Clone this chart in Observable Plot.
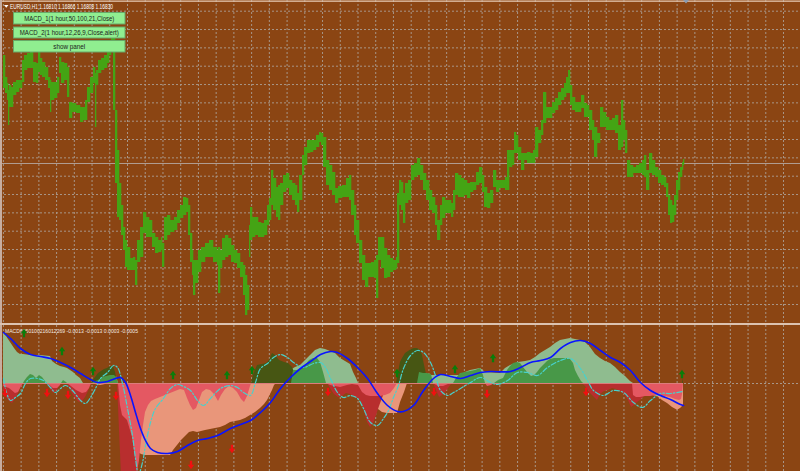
<!DOCTYPE html>
<html><head><meta charset="utf-8">
<script src="https://cdn.jsdelivr.net/npm/d3@7"></script>
<script src="https://cdn.jsdelivr.net/npm/@observablehq/plot@0.6"></script>
<style>
html,body{margin:0;padding:0;background:#8b4513;}
#wrap{position:relative;width:800px;height:471px;overflow:hidden;background:#8b4513;}
#top,#bot,#ovl{position:absolute;left:0;}
#top{top:0;height:323px;} #bot{top:325px;height:146px;} #ovl{top:0;pointer-events:none;}
</style></head>
<body><div id="wrap"><div id="top"></div><div id="bot"></div><svg id="ovl" width="800" height="471"></svg></div>
<script>
// ---------- chart texts ----------
const symbolName = "EURUSD,H1";
const ohlc = ["1.16810", "1.16866", "1.16808", "1.16830"];
const bidPrice = 1.1683;
const buttonLabels = ["MACD_1(1 hour,50,100,21,Close)", "MACD_2(1 hour,12,26,9,Close,alert)", "show panel"];
const indicatorName = "MACD6050100216012269";
const indicatorValues = ["-0.0013", "-0.0013", "0.0003", "-0.0005"];

// ---------- price bars (bar index, high, low) ----------
const priceBar = [
0,2,4,5,6,8,10,13,16,19, 21,24,27,30,33,35,37,39,42,45, 47,48,51,54,56,58,61,64,66,69,
73,77,80,82,84,87,90,92,93,95, 98,101,104,106,108,110,112,114,116,118, 120,122,124,127,130,132,134,137,140,143,
146,149,152,155,158,159,161,164,167,171, 174,177,180,183,185,187,189,190,192,195, 198,202,206,210,214,215,217,219,222,225,
228,231,234,237,240,242,244,246,247,249, 252,255,258,261,264,266,268,270,273,275, 277,280,283,286,289,292,294,296,299,301,
304,307,310,313,316,318,320,323,326,329, 332,335,339,343,346,348,351,353,356,359, 362,365,368,371,373,375,378,381,384,387,
390,393,394,396,398,400,402,405,408,411, 414,417,420,423,426,429,432,434,437,439, 442,445,448,450,452,455,458,461,464,467,
470,473,476,479,481,484,487,490,493,496, 499,502,504,506,509,511,513,515,518,521, 524,527,530,532,535,538,540,543,546,549,
552,555,558,561,563,565,567,569,572,575, 578,581,584,586,589,591,594,597,600,603, 606,609,612,615,618,620,622,624,627,630,
633,636,639,641,643,646,649,652,655,658, 661,663,665,667,669,671,673,675,677,679,680];
const priceHigh = [
1.1791,1.1769,1.1763,1.1756,1.1761,1.1759,1.1764,1.1766,1.1766,1.1786, 1.1791,1.1793,1.1794,1.1784,1.1783,1.1794,1.1788,1.1784,1.1779,1.1769, 1.1766,1.1764,1.1764,1.1769,1.1789,1.1784,1.1783,1.1779,1.1744,1.1743,
1.1741,1.1739,1.1739,1.1746,1.1759,1.1769,1.1779,1.1773,1.1776,1.1786, 1.1788,1.1791,1.1798,1.1804,1.1814,1.1818,1.1736,1.1696,1.1663,1.1641, 1.1619,1.1606,1.1599,1.1588,1.1589,1.1586,1.1606,1.1619,1.1634,1.1629,
1.1626,1.1613,1.1609,1.1606,1.1609,1.1603,1.1629,1.1631,1.1626,1.1629, 1.1636,1.1641,1.1649,1.1648,1.1641,1.1613,1.1596,1.1586,1.1586,1.1596, 1.1599,1.1603,1.1606,1.1599,1.1596,1.1599,1.1596,1.1608,1.1611,1.1608,
1.1601,1.1596,1.1593,1.1584,1.1581,1.1571,1.1561,1.1621,1.1639,1.1629, 1.1629,1.1624,1.1623,1.1626,1.1641,1.1648,1.1676,1.1668,1.1659,1.1661, 1.1663,1.1671,1.1673,1.1666,1.1663,1.1661,1.1653,1.1671,1.1691,1.1699,
1.1706,1.1706,1.1706,1.1711,1.1714,1.1713,1.1709,1.1686,1.1681,1.1674, 1.1658,1.1660,1.1661,1.1668,1.1671,1.1656,1.1641,1.1626,1.1606,1.1591, 1.1583,1.1583,1.1584,1.1586,1.1591,1.1609,1.1609,1.1598,1.1591,1.1588,
1.1586,1.1589,1.1653,1.1666,1.1664,1.1653,1.1663,1.1666,1.1681,1.1683, 1.1688,1.1681,1.1673,1.1666,1.1656,1.1649,1.1641,1.1626,1.1641,1.1649, 1.1646,1.1646,1.1643,1.1656,1.1673,1.1671,1.1668,1.1666,1.1663,1.1664,
1.1664,1.1674,1.1679,1.1671,1.1659,1.1653,1.1656,1.1676,1.1666,1.1666, 1.1666,1.1669,1.1696,1.1696,1.1696,1.1714,1.1711,1.1699,1.1693,1.1693, 1.1694,1.1693,1.1696,1.1719,1.1716,1.1726,1.1754,1.1739,1.1739,1.1744,
1.1748,1.1754,1.1758,1.1763,1.1769,1.1776,1.1761,1.1749,1.1744,1.1744, 1.1751,1.1743,1.1741,1.1736,1.1726,1.1719,1.1713,1.1739,1.1734,1.1729, 1.1726,1.1728,1.1731,1.1721,1.1746,1.1726,1.1716,1.1686,1.1681,1.1679,
1.1681,1.1683,1.1686,1.1691,1.1676,1.1693,1.1686,1.1679,1.1676,1.1671, 1.1669,1.1663,1.1651,1.1646,1.1641,1.1651,1.1666,1.1674,1.1679,1.1684,1.1687];
const priceLow = [
1.1758,1.1753,1.1746,1.1721,1.1739,1.1739,1.1751,1.1754,1.1758,1.1764, 1.1776,1.1778,1.1778,1.1764,1.1763,1.1774,1.1771,1.1769,1.1766,1.1758, 1.1734,1.1746,1.1748,1.1753,1.1773,1.1763,1.1766,1.1749,1.1728,1.1734,
1.1733,1.1724,1.1726,1.1726,1.1744,1.1753,1.1763,1.1719,1.1761,1.1773, 1.1776,1.1778,1.1783,1.1791,1.1796,1.1736,1.1663,1.1629,1.1626,1.1611, 1.1596,1.1579,1.1576,1.1576,1.1576,1.1561,1.1584,1.1589,1.1613,1.1609,
1.1609,1.1599,1.1593,1.1594,1.1596,1.1579,1.1606,1.1611,1.1614,1.1616, 1.1623,1.1628,1.1631,1.1634,1.1611,1.1584,1.1571,1.1551,1.1563,1.1574, 1.1584,1.1589,1.1589,1.1584,1.1581,1.1553,1.1578,1.1586,1.1589,1.1591,
1.1584,1.1583,1.1578,1.1569,1.1551,1.1531,1.1536,1.1589,1.1606,1.1609, 1.1611,1.1609,1.1609,1.1611,1.1621,1.1626,1.1641,1.1636,1.1629,1.1626, 1.1641,1.1654,1.1658,1.1651,1.1646,1.1641,1.1634,1.1646,1.1671,1.1681,
1.1693,1.1694,1.1696,1.1699,1.1704,1.1701,1.1679,1.1661,1.1656,1.1651, 1.1643,1.1648,1.1649,1.1649,1.1646,1.1631,1.1611,1.1603,1.1583,1.1566, 1.1559,1.1569,1.1569,1.1568,1.1548,1.1586,1.1578,1.1568,1.1569,1.1574,
1.1576,1.1578,1.1583,1.1641,1.1636,1.1623,1.1643,1.1646,1.1666,1.1669, 1.1671,1.1666,1.1656,1.1646,1.1636,1.1633,1.1621,1.1606,1.1621,1.1628, 1.1633,1.1633,1.1629,1.1636,1.1651,1.1649,1.1649,1.1651,1.1648,1.1654,
1.1656,1.1661,1.1663,1.1654,1.1639,1.1638,1.1643,1.1659,1.1654,1.1658, 1.1658,1.1656,1.1656,1.1679,1.1681,1.1693,1.1693,1.1686,1.1676,1.1686, 1.1683,1.1683,1.1683,1.1689,1.1703,1.1711,1.1723,1.1728,1.1728,1.1733,
1.1736,1.1741,1.1746,1.1749,1.1753,1.1753,1.1741,1.1736,1.1734,1.1734, 1.1738,1.1729,1.1729,1.1716,1.1706,1.1689,1.1703,1.1719,1.1719,1.1716, 1.1716,1.1716,1.1713,1.1696,1.1699,1.1706,1.1693,1.1669,1.1669,1.1673,
1.1673,1.1673,1.1671,1.1669,1.1656,1.1673,1.1671,1.1669,1.1663,1.1661, 1.1659,1.1649,1.1631,1.1623,1.1624,1.1631,1.1646,1.1656,1.1669,1.1676,1.1681];

// ---------- MACD_1 main (area) ----------
const m1Bar = [0,3,7,11,14,17,20,27,37,47, 49,53,57,61,64,67,70,73,77,80, 83,92,97,102,107,110,113,115,117,120,
123,126,129,132,135,138,142,167,170,174, 178,182,186,190,194,198,202,207,212,217, 222,227,237,242,247,252,257,261,264,267,
269,271,273,277,282,287,292,297,302,307, 312,317,322,327,332,337,342,347,350,353, 355,359,363,367,371,375,379,384,394,397,
401,404,407,412,417,457,462,467,477,482, 497,502,507,515,522,527,532,537,542,547, 552,557,562,567,572,577,582,587,592,597,
602,607,612,617,622,627,630,634,639,644, 649,654,659,664,669,674,677,680];
const m1Val = [0.00300,0.00282,0.00246,0.00210,0.00186,0.00174,0.00174,0.00168,0.00168,0.00162,
0.00132,0.00114,0.00102,0.00096,0.00090,0.00078,0.00066,0.00048,0.00030,0,
-0.00006,-0.00006,-0.00012,-0.00006,0,0.00030,0.00042,0,-0.00054,-0.00132,
-0.00210,-0.00282,-0.00342,-0.00390,-0.00414,-0.00426,-0.00432,-0.00432,-0.00402,-0.00372,
-0.00342,-0.00318,-0.00294,-0.00288,-0.00294,-0.00288,-0.00282,-0.00276,-0.00270,-0.00264,
-0.00252,-0.00234,-0.00222,-0.00210,-0.00192,-0.00174,-0.00150,-0.00126,-0.00102,-0.00066,
-0.00042,-0.00012,0.00012,0.00036,0.00060,0.00078,0.00096,0.00108,0.00138,0.00168,
0.00198,0.00210,0.00204,0.00192,0.00180,0.00150,0.00132,0.00114,0.00066,0.00030,
0,-0.00042,-0.00078,-0.00102,-0.00120,-0.00156,-0.00174,-0.00180,-0.00180,-0.00114,
-0.00054,0,0.00030,0.00042,0.00048,0.00048,0.00066,0.00078,0.00090,0.00066,
0.00060,0.00090,0.00108,0.00126,0.00132,0.00138,0.00156,0.00180,0.00198,0.00216,
0.00240,0.00258,0.00264,0.00270,0.00264,0.00258,0.00246,0.00216,0.00174,0.00150,
0.00132,0.00120,0.00096,0.00066,0.00042,0.00012,-0.00012,-0.00036,-0.00048,-0.00060,
-0.00072,-0.00078,-0.00102,-0.00120,-0.00144,-0.00160,-0.00150,-0.00132];

// ---------- MACD_1 signal (blue line) ----------
const s1Bar = [0,7,17,27,37,47,57,67,77,87, 94,104,112,117,122,127,132,137,142,147, 154,164,174,184,194,204,214,227,237,247,
257,267,277,287,297,307,317,327,334,344, 354,364,374,384,394,400,410,420,430,437, 447,457,467,477,487,507,517,527,537,547,
557,567,577,587,597,607,617,627,637,647, 657,667,677,680];
const s1Val = [0.00306,0.00270,0.00210,0.00174,0.00162,0.00150,0.00126,0.00096,0.00060,0.00024,
0.00006,0.00012,0.00030,0.00036,0.00006,-0.00072,-0.00174,-0.00270,-0.00342,-0.00390,
-0.00414,-0.00420,-0.00408,-0.00372,-0.00342,-0.00330,-0.00312,-0.00270,-0.00246,-0.00222,
-0.00174,-0.00114,-0.00030,0.00036,0.00090,0.00132,0.00174,0.00192,0.00186,0.00150,
0.00096,0.00030,-0.00060,-0.00132,-0.00168,-0.00168,-0.00132,-0.00042,0.00030,0.00054,
0.00042,0.00030,0.00048,0.00066,0.00072,0.00072,0.00096,0.00126,0.00138,0.00156,
0.00210,0.00246,0.00258,0.00240,0.00198,0.00156,0.00126,0.00078,0.00006,-0.00042,
-0.00072,-0.00096,-0.00126,-0.00132];

// ---------- MACD_2 histogram, dark layer (olive / dark red) ----------
const hbBar = [0,3,6,9,12,15,18,20,44,47, 50,53,56,58,64,67,70,73,76,79, 82,85,88,89,92,95,98,101,104,107,
110,112,114,116,118,122,130,134,136,137, 138,139,248,250,254,259,263,266,269,272, 276,281,285,289,291,294,297,324,327,331,
335,339,343,347,351,355,358,360,362,364, 367,370,373,376,379,382,385,387,393,395, 397,399,402,405,408,411,414,417,419,421,
423,425,430,433,436,439,442,445,448,450, 579,582,586,590,594,597,601,605,609,613, 617,621,625,628,631,634,637,641,645,649,
653,655,679,680];
const hbVal = [-0.00042,-0.00084,-0.00108,-0.00120,-0.00096,-0.00060,-0.00018,0,0,-0.00036,
-0.00060,-0.00048,-0.00018,0,0,-0.00042,-0.00072,-0.00096,-0.00114,-0.00108,
-0.00084,-0.00048,0,0.00012,0.00036,0.00060,0.00072,0.00084,0.00090,0.00102,
0.00102,0.00066,0,-0.00282,-0.00552,-0.00672,-0.00702,-0.00582,-0.00432,-0.00282,
-0.00102,0,0,0.00048,0.00108,0.00114,0.00120,0.00138,0.00180,0.00168,
0.00138,0.00126,0.00120,0.00096,0.00066,0.00030,0,0,-0.00030,-0.00066,
-0.00084,-0.00078,-0.00060,-0.00066,-0.00084,-0.00090,-0.00114,-0.00150,-0.00192,-0.00234,
-0.00264,-0.00240,-0.00192,-0.00138,-0.00090,-0.00042,-0.00006,0,0,0.00066,
0.00126,0.00150,0.00180,0.00192,0.00204,0.00210,0.00210,0.00198,0.00168,0.00108,
0.00054,0,0,-0.00042,-0.00084,-0.00072,-0.00054,-0.00030,-0.00006,0,
0,-0.00018,-0.00054,-0.00078,-0.00102,-0.00066,-0.00048,-0.00042,-0.00030,-0.00036,
-0.00048,-0.00066,-0.00102,-0.00144,-0.00132,-0.00114,-0.00102,-0.00078,-0.00054,-0.00030,
-0.00006,0,0,0.00030];

// ---------- MACD_2 histogram, light layer (green / light red) ----------
const haBar = [0,6,12,15,18,20,21,24,27,30, 33,36,39,42,44,50,54,57,58,60, 63,64,73,79,83,86,88,95,99,103,
107,111,113,115,117,119,122,124,127,129, 131,133,134,136,138,140,142,145,148,152, 157,162,167,172,177,181,184,187,190,193,
196,199,203,207,211,215,218,222,226,230, 234,238,241,244,247,248,288,290,294,298, 302,306,310,314,317,320,323,327,337,344,
349,355,359,363,367,372,377,382,387,391, 394,414,416,420,424,428,430,435,440,445, 448,450,453,457,462,467,472,477,480,482,
484,488,491,495,500,504,507,510,514,517, 520,524,528,531,534,537,540,544,547,551, 555,559,563,567,570,572,575,578,580,629,
630,633,637,642,647,652,657,662,667,672, 676,678,679,680];
const haVal = [-0.00018,-0.00030,-0.00060,-0.00054,-0.00018,0,0.00012,0.00036,0.00054,0.00048,
0.00030,0.00048,0.00036,0.00012,0,-0.00030,-0.00030,-0.00012,0,0.00018,
0.00006,0,-0.00042,-0.00060,-0.00054,-0.00030,0,0.00018,0.00036,0.00042,
0.00048,0.00048,0.00036,0,-0.00132,-0.00192,-0.00210,-0.00222,-0.00282,-0.00324,
-0.00402,-0.00462,-0.00528,-0.00462,-0.00342,-0.00252,-0.00174,-0.00132,-0.00108,-0.00096,
-0.00084,-0.00072,-0.00060,-0.00048,-0.00036,-0.00042,-0.00090,-0.00132,-0.00162,-0.00150,
-0.00102,-0.00054,-0.00036,-0.00042,-0.00066,-0.00108,-0.00072,-0.00036,-0.00018,-0.00030,
-0.00054,-0.00096,-0.00114,-0.00078,-0.00018,0,0,0.00078,0.00078,0.00090,
0.00108,0.00138,0.00150,0.00150,0.00126,0.00066,0,-0.00012,-0.00024,-0.00012,
-0.00006,-0.00012,-0.00054,-0.00072,-0.00078,-0.00078,-0.00078,-0.00072,-0.00060,-0.00030,
0,0,0.00066,0.00060,0.00060,0.00054,0,-0.00018,-0.00018,-0.00006,
0,0,0.00030,0.00060,0.00066,0.00072,0.00078,0.00090,0.00048,0,
-0.00018,-0.00012,0,0.00018,0.00030,0.00078,0.00102,0.00120,0.00126,0.00120,
0.00096,0.00066,0.00042,0.00048,0.00066,0.00090,0.00108,0.00132,0.00144,0.00150,
0.00150,0.00150,0.00150,0.00144,0.00120,0.00078,0.00042,0.00012,0,0,
-0.00072,-0.00084,-0.00084,-0.00078,-0.00078,-0.00072,-0.00072,-0.00078,-0.00084,-0.00096,
-0.00102,-0.00096,-0.00066,0];

// ---------- MACD_2 signal (cyan dash-dot) ----------
const s2Bar = [0,3,7,12,17,22,27,34,40,47, 52,57,62,69,77,82,87,92,97,104, 110,114,119,124,129,132,135,139,142,147,
152,160,167,174,180,187,194,200,207,217, 227,234,240,247,252,257,264,270,277,284, 290,300,310,317,322,327,334,340,347,354,
360,367,374,380,385,390,395,400,407,414, 420,427,432,437,444,450,457,467,477,487, 494,504,514,524,534,544,557,567,577,584,
590,600,610,620,630,639,647,657,667,679];
const s2Val = [0.00030,-0.00054,-0.00102,-0.00084,-0.00060,0,0.00030,0.00030,0.00018,-0.00024,
-0.00054,-0.00030,-0.00012,-0.00042,-0.00102,-0.00120,-0.00084,-0.00030,0.00030,0.00066,
0.00108,0.00096,0,-0.00150,-0.00312,-0.00450,-0.00546,-0.00474,-0.00372,-0.00234,
-0.00150,-0.00090,-0.00030,-0.00006,-0.00018,-0.00042,-0.00102,-0.00132,-0.00090,-0.00030,
-0.00012,-0.00024,-0.00054,-0.00072,0.00006,0.00090,0.00120,0.00156,0.00174,0.00156,
0.00126,0.00096,0.00120,0.00126,0.00096,0.00030,-0.00054,-0.00084,-0.00072,-0.00090,
-0.00150,-0.00234,-0.00252,-0.00210,-0.00162,-0.00084,-0.00012,0.00090,0.00168,0.00198,
0.00186,0.00126,0.00048,-0.00042,-0.00072,-0.00054,-0.00030,0.00006,0.00036,0.00006,
-0.00006,0.00018,0.00066,0.00066,0.00048,0.00096,0.00138,0.00150,0.00090,0.00018,
-0.00042,-0.00072,-0.00042,-0.00054,-0.00114,-0.00144,-0.00102,-0.00060,-0.00060,-0.00048];

// ---------- signal arrows ----------
const upBar = [21,59,90,170,224,249,394,452,490,679];
const upVal = [0.00300,0.00192,0.00072,0.00048,0.00048,0.00078,0.00060,0.00084,0.00150,0.00054];
const dnBar = [2,44,65,113,188,229,325,431,484,583];
const dnVal = [-0.00060,-0.00060,-0.00072,-0.00078,-0.00492,-0.00396,-0.00054,-0.00054,-0.00066,-0.00054];

// ---------- build ----------
const zip = (b, v) => b.map((x, i) => ({bar: x, v: v[i]}));
const price = priceBar.map((b, i) => ({bar: b, next: i < priceBar.length - 1 ? priceBar[i + 1] : b + 1, hi: priceHigh[i], lo: priceLow[i]}));
const m1 = zip(m1Bar, m1Val), s1 = zip(s1Bar, s1Val), hb = zip(hbBar, hbVal), ha = zip(haBar, haVal), s2 = zip(s2Bar, s2Val);
const up = zip(upBar, upVal), dn = zip(dnBar, dnVal);
const lastBar = priceBar[priceBar.length - 1];

const xDomain = [-3, 797];
const gridColor = "#a89688";
const gridX = d3.range(0, 46).map(k => -0.1 + 17.73 * k);
const gridY = d3.range(0, 17).map(k => 1.18353 - 0.0018333 * k);
const svgStyle = {background: "transparent", overflow: "hidden"};

const topPlot = Plot.plot({
  width: 800, height: 323, margin: 0, style: svgStyle,
  x: {domain: xDomain, axis: null},
  y: {domain: [1.1523, 1.1846], axis: null},
  marks: [
    Plot.ruleY(gridY, {stroke: gridColor, strokeDasharray: "2,2"}),
    Plot.ruleX(gridX, {stroke: gridColor, strokeDasharray: "2,2"}),
    Plot.ruleY([bidPrice], {stroke: "#b09c90"}),
    Plot.rect(price, {x1: "bar", x2: d => d.next + 0.3, y1: "lo", y2: "hi", fill: "#44a414"})
  ]
});
document.getElementById("top").append(topPlot);

const pos = v => Math.max(0, v), neg = v => Math.min(0, v);
const botPlot = Plot.plot({
  width: 800, height: 146, margin: 0, style: svgStyle,
  x: {domain: xDomain, axis: null},
  y: {domain: [-0.00528, 0.00348], axis: null},
  marks: [
    Plot.ruleX(gridX, {stroke: gridColor, strokeDasharray: "2,2"}),
    Plot.ruleY([0], {stroke: gridColor, strokeDasharray: "2,2"}),
    Plot.area(m1, {x1: "bar", y1: 0, y2: d => pos(d.v), fill: "#8fbc8f"}),
    Plot.area(m1, {x1: "bar", y1: 0, y2: d => neg(d.v), fill: "#e9967a"}),
    Plot.area(hb, {x1: "bar", y1: 0, y2: d => pos(d.v), fill: "#475613"}),
    Plot.area(hb, {x1: "bar", y1: 0, y2: d => neg(d.v), fill: "#b82e2e"}),
    Plot.area(ha, {x1: "bar", y1: 0, y2: d => pos(d.v), fill: "#489848"}),
    Plot.area(ha, {x1: "bar", y1: 0, y2: d => neg(d.v), fill: "#e45862"}),
    Plot.ruleY([0], {x1: 0, x2: lastBar, stroke: "#dc7c7c"}),
    Plot.line(s2, {x: "bar", y: "v", stroke: "#48d1cc", strokeWidth: 1.2, strokeDasharray: "5,2,1.5,2", curve: "catmull-rom"}),
    Plot.line(s1, {x: "bar", y: "v", stroke: "#0a14ff", strokeWidth: 1.6, curve: "catmull-rom"})
  ]
});
document.getElementById("bot").append(botPlot);

// ---------- overlay: borders, title, buttons, indicator label, arrows ----------
const ovl = d3.select("#ovl");
const font = "'Liberation Sans', Arial, sans-serif";
ovl.append("rect").attr("x", 0).attr("y", 0.5).attr("width", 800).attr("height", 1.3).attr("fill", "#e4c6ae");
ovl.append("rect").attr("x", 0).attr("y", 0).attr("width", 2).attr("height", 471).attr("fill", "#c7ada0");
ovl.append("rect").attr("x", 0).attr("y", 323).attr("width", 800).attr("height", 2).attr("fill", "#dcc2b0");
ovl.append("polygon").attr("points", "683,0 689,0 686,3.5").attr("fill", "#8a9bb0");
ovl.append("polygon").attr("points", "4,5 8.5,5 6.25,7.8").attr("fill", "#ffffff");
ovl.append("text").attr("x", 10).attr("y", 8.6).attr("font-family", font).attr("font-size", 7)
  .attr("fill", "#ffffff").attr("textLength", 103).attr("lengthAdjust", "spacingAndGlyphs")
  .text(symbolName + "  " + ohlc.join(" "));
const btnBox = [[12.5, 11.5, 90], [27, 11, 99], [40.5, 11.5, 32]];
buttonLabels.forEach((label, i) => {
  const [y, h, tw] = btnBox[i];
  ovl.append("rect").attr("x", 13.5).attr("y", y).attr("width", 111.5).attr("height", h)
    .attr("fill", "#90ee90").attr("stroke", "#68a868").attr("stroke-width", 1);
  ovl.append("text").attr("x", 69.25).attr("y", y + h / 2 + 2.4).attr("text-anchor", "middle")
    .attr("font-family", font).attr("font-size", 6.6).attr("fill", "#1c1c1c")
    .attr("textLength", tw).attr("lengthAdjust", "spacingAndGlyphs").text(label);
});
ovl.append("text").attr("x", 5).attr("y", 332.6).attr("font-family", font).attr("font-size", 6)
  .attr("fill", "#f2ebe4").attr("textLength", 133).attr("lengthAdjust", "spacingAndGlyphs")
  .text(indicatorName + " " + indicatorValues.join(" "));

// arrows placed through the MACD plot's own scales
const sx = botPlot.scale("x"), sy = botPlot.scale("y");
const arrowPath = (dir) => { const h = 4.2, hw = 3.2, sw = 1.15, b = 0.3 * dir;
  return `M0,${-h * dir}L${hw},${b}L${sw},${b}L${sw},${h * dir}L${-sw},${h * dir}L${-sw},${b}L${-hw},${b}Z`; };
ovl.append("g").selectAll("path").data(up).join("path")
  .attr("transform", d => `translate(${sx.apply(d.bar)},${325 + sy.apply(d.v)})`)
  .attr("d", arrowPath(1)).attr("fill", "#0a7d0a");
ovl.append("g").selectAll("path").data(dn).join("path")
  .attr("transform", d => `translate(${sx.apply(d.bar)},${325 + sy.apply(d.v)})`)
  .attr("d", arrowPath(-1)).attr("fill", "#f01010");
</script>
</body></html>
